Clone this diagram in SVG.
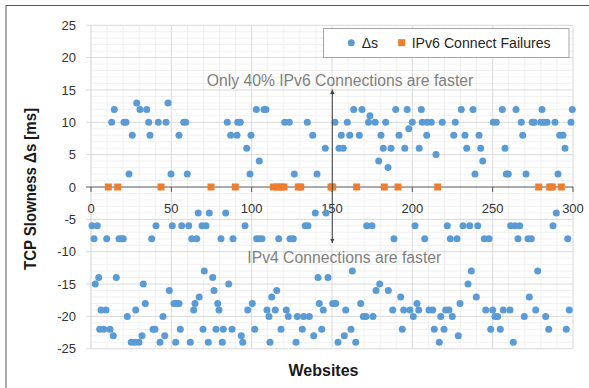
<svg xmlns="http://www.w3.org/2000/svg" width="589" height="388" viewBox="0 0 589 388">
  <style>
    .minor { stroke: #f0f0f0; stroke-width: 1; fill: none; }
    .major { stroke: #d9d9d9; stroke-width: 1; fill: none; }
    .yaxis { stroke: #d0d0d0; stroke-width: 1; fill: none; }
    .xaxis { stroke: #595959; stroke-width: 1; fill: none; }
    .tick { font-family: "Liberation Sans", Arial, sans-serif; font-size: 13px; fill: #333333; }
    .ytick { text-anchor: end; }
    .xtick { text-anchor: middle; }
    .title { font-family: "Liberation Sans", Arial, sans-serif; font-size: 16px; font-weight: bold; fill: #1a1a1a; }
    .note { font-family: "Liberation Sans", Arial, sans-serif; font-size: 16px; fill: #7f7f7f; }
    .legend-text { font-family: "Liberation Sans", Arial, sans-serif; font-size: 14px; fill: #262626; }
    .delta circle, circle.delta { fill: #5b9bd5; }
    .fail rect, rect.fail { fill: #ed7d31; }
    .arrow { stroke: #404040; stroke-width: 1; fill: none; }
  </style>
  <defs>
    <marker id="head" viewBox="0 0 10 10" refX="10" refY="5" markerWidth="4.5" markerHeight="4.5" orient="auto-start-reverse">
      <path d="M0,0 L10,5 L0,10 z" fill="#404040"/>
    </marker>
  </defs>

  <!-- chart background and frame -->
  <rect x="0" y="0" width="589" height="388" fill="#ffffff"/>
  <rect id="frame" x="6" y="5.5" width="620" height="420" fill="none" stroke="#595959" stroke-width="1"/>

  <!-- grid: minor lines every 1 ms / 10 sites, major every 5 ms / 50 sites -->
  <g id="grid">
    <path class="minor" d="M91,31.72H573M91,38.19H573M91,44.66H573M91,51.13H573
      M91,64.07H573M91,70.54H573M91,77.01H573M91,83.48H573
      M91,96.42H573M91,102.89H573M91,109.36H573M91,115.83H573
      M91,128.77H573M91,135.24H573M91,141.71H573M91,148.18H573
      M91,161.12H573M91,167.59H573M91,174.06H573M91,180.53H573
      M91,193.47H573M91,199.94H573M91,206.41H573M91,212.88H573
      M91,225.82H573M91,232.29H573M91,238.76H573M91,245.23H573
      M91,258.17H573M91,264.64H573M91,271.11H573M91,277.58H573
      M91,290.52H573M91,296.99H573M91,303.46H573M91,309.93H573
      M91,322.87H573M91,329.34H573M91,335.81H573M91,342.28H573
      M107.07,25.25V348.75M123.13,25.25V348.75M139.2,25.25V348.75M155.27,25.25V348.75
      M187.4,25.25V348.75M203.47,25.25V348.75M219.53,25.25V348.75M235.6,25.25V348.75
      M267.73,25.25V348.75M283.8,25.25V348.75M299.87,25.25V348.75M315.93,25.25V348.75
      M348.07,25.25V348.75M364.13,25.25V348.75M380.2,25.25V348.75M396.27,25.25V348.75
      M428.4,25.25V348.75M444.47,25.25V348.75M460.53,25.25V348.75M476.6,25.25V348.75
      M508.73,25.25V348.75M524.8,25.25V348.75M540.87,25.25V348.75M556.93,25.25V348.75"/>
    <path class="major" d="M86,25.25H573M86,57.6H573M86,89.95H573M86,122.3H573M86,154.65H573
      M86,219.35H573M86,251.7H573M86,284.05H573M86,316.4H573M86,348.75H573
      M171.33,25.25V348.75M251.67,25.25V348.75M332,25.25V348.75M412.33,25.25V348.75
      M492.67,25.25V348.75M573,25.25V348.75"/>
  </g>

  <!-- axes -->
  <g id="axes">
    <path class="yaxis" d="M91,25.25V348.75"/>
    <path class="xaxis" d="M86,187H573M91,187V192M171.33,187V192M251.67,187V192M332,187V192M412.33,187V192M492.67,187V192M573,187V192"/>
    <g class="tick ytick">
      <text x="76" y="29.85">25</text>
      <text x="76" y="62.2">20</text>
      <text x="76" y="94.55">15</text>
      <text x="76" y="126.9">10</text>
      <text x="76" y="159.25">5</text>
      <text x="76" y="191.6">0</text>
      <text x="76" y="223.95">-5</text>
      <text x="76" y="256.3">-10</text>
      <text x="76" y="288.65">-15</text>
      <text x="76" y="321">-20</text>
      <text x="76" y="353.35">-25</text>
    </g>
    <g class="tick xtick">
      <text x="91" y="213.3">0</text>
      <text x="171.33" y="213.3">50</text>
      <text x="251.67" y="213.3">100</text>
      <text x="332" y="213.3">150</text>
      <text x="412.33" y="213.3">200</text>
      <text x="492.67" y="213.3">250</text>
      <text x="573" y="213.3">300</text>
    </g>
    <text class="title" transform="translate(35.5,189) rotate(-90)" text-anchor="middle" textLength="162" lengthAdjust="spacingAndGlyphs">TCP Slowness Δs [ms]</text>
    <text class="title" x="323.5" y="376.3" text-anchor="middle">Websites</text>
  </g>

  <!-- series: IPv6 connect failures (plotted at 0) -->
  <g id="series-failures" class="fail">
    <rect x="104.8" y="183.5" width="7" height="7"/>
    <rect x="114.2" y="183.5" width="7" height="7"/>
    <rect x="157.5" y="183.5" width="7" height="7"/>
    <rect x="207.5" y="183.5" width="7" height="7"/>
    <rect x="231.8" y="183.5" width="7" height="7"/>
    <rect x="269.8" y="183.5" width="7" height="7"/>
    <rect x="273.8" y="183.5" width="7" height="7"/>
    <rect x="277.2" y="183.5" width="7" height="7"/>
    <rect x="280.5" y="183.5" width="7" height="7"/>
    <rect x="294.8" y="183.5" width="7" height="7"/>
    <rect x="297.2" y="183.5" width="7" height="7"/>
    <rect x="327.5" y="183.5" width="7" height="7"/>
    <rect x="329.2" y="183.5" width="7" height="7"/>
    <rect x="353.2" y="183.5" width="7" height="7"/>
    <rect x="380.8" y="183.5" width="7" height="7"/>
    <rect x="394.5" y="183.5" width="7" height="7"/>
    <rect x="434.2" y="183.5" width="7" height="7"/>
    <rect x="535.2" y="183.5" width="7" height="7"/>
    <rect x="546.2" y="183.5" width="7" height="7"/>
    <rect x="548.8" y="183.5" width="7" height="7"/>
    <rect x="557.8" y="183.5" width="7" height="7"/>
  </g>

  <!-- series: delta s per website -->
  <g id="series-delta" class="delta">
    <!-- positive values -->
    <circle cx="111.7" cy="122.3" r="3.5"/>
    <circle cx="114.3" cy="109.4" r="3.5"/>
    <circle cx="124" cy="122.3" r="3.5"/>
    <circle cx="126" cy="122.3" r="3.5"/>
    <circle cx="129" cy="174.1" r="3.5"/>
    <circle cx="132.3" cy="135.2" r="3.5"/>
    <circle cx="136.7" cy="102.9" r="3.5"/>
    <circle cx="140" cy="109.4" r="3.5"/>
    <circle cx="146.7" cy="109.4" r="3.5"/>
    <circle cx="148.7" cy="122.3" r="3.5"/>
    <circle cx="150" cy="135.2" r="3.5"/>
    <circle cx="158.3" cy="122.3" r="3.5"/>
    <circle cx="166" cy="122.3" r="3.5"/>
    <circle cx="168" cy="102.9" r="3.5"/>
    <circle cx="171" cy="174.1" r="3.5"/>
    <circle cx="179" cy="135.2" r="3.5"/>
    <circle cx="183.7" cy="122.3" r="3.5"/>
    <circle cx="185.7" cy="122.3" r="3.5"/>
    <circle cx="187.3" cy="174.1" r="3.5"/>
    <circle cx="227.3" cy="122.3" r="3.5"/>
    <circle cx="230.7" cy="135.2" r="3.5"/>
    <circle cx="237" cy="135.2" r="3.5"/>
    <circle cx="237.7" cy="122.3" r="3.5"/>
    <circle cx="240.3" cy="122.3" r="3.5"/>
    <circle cx="246.7" cy="148.2" r="3.5"/>
    <circle cx="251" cy="135.2" r="3.5"/>
    <circle cx="250" cy="174.1" r="3.5"/>
    <circle cx="256.3" cy="109.4" r="3.5"/>
    <circle cx="259.3" cy="161.1" r="3.5"/>
    <circle cx="264" cy="109.4" r="3.5"/>
    <circle cx="266" cy="109.4" r="3.5"/>
    <circle cx="284.7" cy="122.3" r="3.5"/>
    <circle cx="289.3" cy="122.3" r="3.5"/>
    <circle cx="294.3" cy="174.1" r="3.5"/>
    <circle cx="307.3" cy="122.3" r="3.5"/>
    <circle cx="312.7" cy="135.2" r="3.5"/>
    <circle cx="317" cy="174.1" r="3.5"/>
    <circle cx="325.3" cy="148.2" r="3.5"/>
    <circle cx="335" cy="122.3" r="3.5"/>
    <circle cx="339" cy="148.2" r="3.5"/>
    <circle cx="343.3" cy="148.2" r="3.5"/>
    <circle cx="341.3" cy="135.2" r="3.5"/>
    <circle cx="347.3" cy="122.3" r="3.5"/>
    <circle cx="349.7" cy="135.2" r="3.5"/>
    <circle cx="353.7" cy="109.4" r="3.5"/>
    <circle cx="359.3" cy="135.2" r="3.5"/>
    <circle cx="362" cy="109.4" r="3.5"/>
    <circle cx="370" cy="115.8" r="3.5"/>
    <circle cx="368.5" cy="122.3" r="3.5"/>
    <circle cx="375.2" cy="122.3" r="3.5"/>
    <circle cx="385.7" cy="122.3" r="3.5"/>
    <circle cx="381" cy="135.2" r="3.5"/>
    <circle cx="383.3" cy="148.2" r="3.5"/>
    <circle cx="391" cy="148.2" r="3.5"/>
    <circle cx="378.7" cy="161.1" r="3.5"/>
    <circle cx="388" cy="167.6" r="3.5"/>
    <circle cx="395.7" cy="109.4" r="3.5"/>
    <circle cx="399" cy="135.2" r="3.5"/>
    <circle cx="407.2" cy="109.4" r="3.5"/>
    <circle cx="408.8" cy="128.8" r="3.5"/>
    <circle cx="412.3" cy="122.3" r="3.5"/>
    <circle cx="404.8" cy="148.2" r="3.5"/>
    <circle cx="421.3" cy="109.4" r="3.5"/>
    <circle cx="422.3" cy="122.3" r="3.5"/>
    <circle cx="427" cy="122.3" r="3.5"/>
    <circle cx="431.3" cy="122.3" r="3.5"/>
    <circle cx="426.7" cy="135.2" r="3.5"/>
    <circle cx="419.2" cy="148.2" r="3.5"/>
    <circle cx="436" cy="154.6" r="3.5"/>
    <circle cx="442.3" cy="122.3" r="3.5"/>
    <circle cx="455.3" cy="122.3" r="3.5"/>
    <circle cx="453.7" cy="135.2" r="3.5"/>
    <circle cx="461.3" cy="109.4" r="3.5"/>
    <circle cx="473" cy="109.4" r="3.5"/>
    <circle cx="465" cy="135.2" r="3.5"/>
    <circle cx="466.7" cy="148.2" r="3.5"/>
    <circle cx="479" cy="135.2" r="3.5"/>
    <circle cx="480.7" cy="148.2" r="3.5"/>
    <circle cx="482.7" cy="161.1" r="3.5"/>
    <circle cx="475" cy="174.1" r="3.5"/>
    <circle cx="493.3" cy="122.3" r="3.5"/>
    <circle cx="496.3" cy="122.3" r="3.5"/>
    <circle cx="502.3" cy="109.4" r="3.5"/>
    <circle cx="505" cy="148.2" r="3.5"/>
    <circle cx="506.3" cy="174.1" r="3.5"/>
    <circle cx="508.3" cy="174.1" r="3.5"/>
    <circle cx="516" cy="109.4" r="3.5"/>
    <circle cx="521.3" cy="122.3" r="3.5"/>
    <circle cx="522.7" cy="135.2" r="3.5"/>
    <circle cx="526" cy="174.1" r="3.5"/>
    <circle cx="532.3" cy="122.3" r="3.5"/>
    <circle cx="534.3" cy="122.3" r="3.5"/>
    <circle cx="542" cy="109.4" r="3.5"/>
    <circle cx="540.7" cy="122.3" r="3.5"/>
    <circle cx="544" cy="122.3" r="3.5"/>
    <circle cx="547" cy="122.3" r="3.5"/>
    <circle cx="555" cy="122.3" r="3.5"/>
    <circle cx="559.7" cy="135.2" r="3.5"/>
    <circle cx="563" cy="135.2" r="3.5"/>
    <circle cx="565" cy="148.2" r="3.5"/>
    <circle cx="558" cy="174.1" r="3.5"/>
    <circle cx="572.3" cy="109.4" r="3.5"/>
    <circle cx="571" cy="122.3" r="3.5"/>
    <!-- -4 .. -8 band -->
    <circle cx="92" cy="225.8" r="3.5"/>
    <circle cx="97.3" cy="225.8" r="3.5"/>
    <circle cx="94" cy="238.8" r="3.5"/>
    <circle cx="106.7" cy="238.8" r="3.5"/>
    <circle cx="119" cy="238.8" r="3.5"/>
    <circle cx="121.7" cy="238.8" r="3.5"/>
    <circle cx="123.3" cy="238.8" r="3.5"/>
    <circle cx="151.7" cy="238.8" r="3.5"/>
    <circle cx="156" cy="225.8" r="3.5"/>
    <circle cx="172.3" cy="225.8" r="3.5"/>
    <circle cx="181.7" cy="225.8" r="3.5"/>
    <circle cx="188.7" cy="225.8" r="3.5"/>
    <circle cx="191.7" cy="238.8" r="3.5"/>
    <circle cx="196.7" cy="238.8" r="3.5"/>
    <circle cx="198.2" cy="212.9" r="3.5"/>
    <circle cx="202" cy="225.8" r="3.5"/>
    <circle cx="206" cy="225.8" r="3.5"/>
    <circle cx="209.3" cy="212.9" r="3.5"/>
    <circle cx="225.7" cy="212.9" r="3.5"/>
    <circle cx="221" cy="238.8" r="3.5"/>
    <circle cx="233" cy="238.8" r="3.5"/>
    <circle cx="245" cy="225.8" r="3.5"/>
    <circle cx="256.7" cy="238.8" r="3.5"/>
    <circle cx="259.3" cy="238.8" r="3.5"/>
    <circle cx="262" cy="238.8" r="3.5"/>
    <circle cx="278.7" cy="238.8" r="3.5"/>
    <circle cx="290" cy="238.8" r="3.5"/>
    <circle cx="293.3" cy="238.8" r="3.5"/>
    <circle cx="305.3" cy="225.8" r="3.5"/>
    <circle cx="308" cy="225.8" r="3.5"/>
    <circle cx="315.3" cy="212.9" r="3.5"/>
    <circle cx="326" cy="212.9" r="3.5"/>
    <circle cx="366.7" cy="225.8" r="3.5"/>
    <circle cx="372" cy="225.8" r="3.5"/>
    <circle cx="394" cy="238.8" r="3.5"/>
    <circle cx="415" cy="225.8" r="3.5"/>
    <circle cx="424.7" cy="238.8" r="3.5"/>
    <circle cx="447.3" cy="225.8" r="3.5"/>
    <circle cx="450.3" cy="238.8" r="3.5"/>
    <circle cx="457" cy="238.8" r="3.5"/>
    <circle cx="463" cy="225.8" r="3.5"/>
    <circle cx="469.7" cy="225.8" r="3.5"/>
    <circle cx="477.7" cy="225.8" r="3.5"/>
    <circle cx="484.3" cy="238.8" r="3.5"/>
    <circle cx="489" cy="238.8" r="3.5"/>
    <circle cx="510.7" cy="225.8" r="3.5"/>
    <circle cx="515" cy="225.8" r="3.5"/>
    <circle cx="519.7" cy="225.8" r="3.5"/>
    <circle cx="518" cy="238.8" r="3.5"/>
    <circle cx="528" cy="238.8" r="3.5"/>
    <circle cx="531.3" cy="238.8" r="3.5"/>
    <circle cx="553" cy="225.8" r="3.5"/>
    <circle cx="556.3" cy="212.9" r="3.5"/>
    <circle cx="567.7" cy="238.8" r="3.5"/>
    <!-- -13 .. -24 band -->
    <circle cx="95.3" cy="284" r="3.5"/>
    <circle cx="98.7" cy="277.6" r="3.5"/>
    <circle cx="116.3" cy="277.6" r="3.5"/>
    <circle cx="101" cy="309.9" r="3.5"/>
    <circle cx="106" cy="309.9" r="3.5"/>
    <circle cx="99.7" cy="329.3" r="3.5"/>
    <circle cx="103.7" cy="329.3" r="3.5"/>
    <circle cx="110" cy="329.3" r="3.5"/>
    <circle cx="113.3" cy="335.8" r="3.5"/>
    <circle cx="127.3" cy="316.4" r="3.5"/>
    <circle cx="131.3" cy="342.3" r="3.5"/>
    <circle cx="135" cy="342.3" r="3.5"/>
    <circle cx="139" cy="342.3" r="3.5"/>
    <circle cx="135.7" cy="309.9" r="3.5"/>
    <circle cx="142" cy="335.8" r="3.5"/>
    <circle cx="143.3" cy="284" r="3.5"/>
    <circle cx="145.3" cy="303.5" r="3.5"/>
    <circle cx="153" cy="329.3" r="3.5"/>
    <circle cx="155" cy="329.3" r="3.5"/>
    <circle cx="160" cy="342.3" r="3.5"/>
    <circle cx="163" cy="316.4" r="3.5"/>
    <circle cx="164.7" cy="335.8" r="3.5"/>
    <circle cx="169.3" cy="290.5" r="3.5"/>
    <circle cx="174" cy="303.5" r="3.5"/>
    <circle cx="176.7" cy="303.5" r="3.5"/>
    <circle cx="179" cy="303.5" r="3.5"/>
    <circle cx="175.7" cy="342.3" r="3.5"/>
    <circle cx="180.3" cy="329.3" r="3.5"/>
    <circle cx="190.3" cy="342.3" r="3.5"/>
    <circle cx="193.7" cy="309.9" r="3.5"/>
    <circle cx="195" cy="303.5" r="3.5"/>
    <circle cx="199.2" cy="297" r="3.5"/>
    <circle cx="203" cy="329.3" r="3.5"/>
    <circle cx="204.3" cy="271.1" r="3.5"/>
    <circle cx="212.7" cy="277.6" r="3.5"/>
    <circle cx="228.7" cy="284" r="3.5"/>
    <circle cx="214" cy="290.5" r="3.5"/>
    <circle cx="217.7" cy="303.5" r="3.5"/>
    <circle cx="219" cy="309.9" r="3.5"/>
    <circle cx="208.3" cy="342.3" r="3.5"/>
    <circle cx="222.3" cy="342.3" r="3.5"/>
    <circle cx="216" cy="329.3" r="3.5"/>
    <circle cx="223.3" cy="329.3" r="3.5"/>
    <circle cx="232" cy="329.3" r="3.5"/>
    <circle cx="241.3" cy="335.8" r="3.5"/>
    <circle cx="242.7" cy="342.3" r="3.5"/>
    <circle cx="247.7" cy="309.9" r="3.5"/>
    <circle cx="252.3" cy="303.5" r="3.5"/>
    <circle cx="254.7" cy="329.3" r="3.5"/>
    <circle cx="270" cy="342.3" r="3.5"/>
    <circle cx="267" cy="309.9" r="3.5"/>
    <circle cx="269" cy="316.4" r="3.5"/>
    <circle cx="271.7" cy="297" r="3.5"/>
    <circle cx="276.7" cy="290.5" r="3.5"/>
    <circle cx="275.3" cy="309.9" r="3.5"/>
    <circle cx="281" cy="329.3" r="3.5"/>
    <circle cx="286.3" cy="309.9" r="3.5"/>
    <circle cx="288.3" cy="316.4" r="3.5"/>
    <circle cx="296" cy="342.3" r="3.5"/>
    <circle cx="297.3" cy="316.4" r="3.5"/>
    <circle cx="303.7" cy="316.4" r="3.5"/>
    <circle cx="309.3" cy="316.4" r="3.5"/>
    <circle cx="302.3" cy="329.3" r="3.5"/>
    <circle cx="313.7" cy="335.8" r="3.5"/>
    <circle cx="318" cy="277.6" r="3.5"/>
    <circle cx="328" cy="277.6" r="3.5"/>
    <circle cx="319.3" cy="303.5" r="3.5"/>
    <circle cx="323.3" cy="309.9" r="3.5"/>
    <circle cx="321.7" cy="329.3" r="3.5"/>
    <circle cx="332.7" cy="303.5" r="3.5"/>
    <circle cx="335.7" cy="303.5" r="3.5"/>
    <circle cx="338" cy="342.3" r="3.5"/>
    <circle cx="345.7" cy="309.9" r="3.5"/>
    <circle cx="344.3" cy="335.8" r="3.5"/>
    <circle cx="351" cy="329.3" r="3.5"/>
    <circle cx="352.3" cy="271.1" r="3.5"/>
    <circle cx="355.7" cy="342.3" r="3.5"/>
    <circle cx="360.7" cy="303.5" r="3.5"/>
    <circle cx="363.3" cy="316.4" r="3.5"/>
    <circle cx="366" cy="316.4" r="3.5"/>
    <circle cx="373" cy="316.4" r="3.5"/>
    <circle cx="376" cy="290.5" r="3.5"/>
    <circle cx="379.7" cy="284" r="3.5"/>
    <circle cx="388.3" cy="290.5" r="3.5"/>
    <circle cx="392.7" cy="309.9" r="3.5"/>
    <circle cx="400.7" cy="297" r="3.5"/>
    <circle cx="402.3" cy="329.3" r="3.5"/>
    <circle cx="403.7" cy="309.9" r="3.5"/>
    <circle cx="410" cy="309.9" r="3.5"/>
    <circle cx="413.3" cy="316.4" r="3.5"/>
    <circle cx="417" cy="303.5" r="3.5"/>
    <circle cx="418.7" cy="309.9" r="3.5"/>
    <circle cx="429" cy="309.9" r="3.5"/>
    <circle cx="432.7" cy="309.9" r="3.5"/>
    <circle cx="434.3" cy="329.3" r="3.5"/>
    <circle cx="439.3" cy="342.3" r="3.5"/>
    <circle cx="440.7" cy="316.4" r="3.5"/>
    <circle cx="444" cy="329.3" r="3.5"/>
    <circle cx="445.7" cy="309.9" r="3.5"/>
    <circle cx="449" cy="309.9" r="3.5"/>
    <circle cx="452.3" cy="316.4" r="3.5"/>
    <circle cx="458.3" cy="335.8" r="3.5"/>
    <circle cx="460" cy="303.5" r="3.5"/>
    <circle cx="468" cy="284" r="3.5"/>
    <circle cx="471.3" cy="271.1" r="3.5"/>
    <circle cx="476.3" cy="297" r="3.5"/>
    <circle cx="485.7" cy="309.9" r="3.5"/>
    <circle cx="492.7" cy="309.9" r="3.5"/>
    <circle cx="490.7" cy="329.3" r="3.5"/>
    <circle cx="495" cy="316.4" r="3.5"/>
    <circle cx="497.7" cy="316.4" r="3.5"/>
    <circle cx="500.3" cy="329.3" r="3.5"/>
    <circle cx="503.3" cy="309.9" r="3.5"/>
    <circle cx="510" cy="309.9" r="3.5"/>
    <circle cx="513.3" cy="342.3" r="3.5"/>
    <circle cx="524.3" cy="316.4" r="3.5"/>
    <circle cx="529.3" cy="297" r="3.5"/>
    <circle cx="535.7" cy="309.9" r="3.5"/>
    <circle cx="537.7" cy="271.1" r="3.5"/>
    <circle cx="545.7" cy="316.4" r="3.5"/>
    <circle cx="548.7" cy="329.3" r="3.5"/>
    <circle cx="566.3" cy="329.3" r="3.5"/>
    <circle cx="569.3" cy="309.9" r="3.5"/>
  </g>

  <!-- legend -->
  <g id="legend">
    <rect x="323.5" y="28.5" width="245.5" height="29" fill="#ffffff" stroke="#a6a6a6" stroke-width="1"/>
    <circle class="delta" cx="351.3" cy="42.7" r="3.5"/>
    <text class="legend-text" x="361.7" y="48">Δs</text>
    <rect class="fail" x="398.2" y="39.2" width="7" height="7"/>
    <text class="legend-text" x="411.7" y="48" textLength="139" lengthAdjust="spacingAndGlyphs">IPv6 Connect Failures</text>
  </g>

  <!-- annotations -->
  <g id="annotations">
    <text class="note" x="206.7" y="86" textLength="266.6" lengthAdjust="spacingAndGlyphs">Only 40% IPv6 Connections are faster</text>
    <text class="note" x="247.3" y="263" textLength="194" lengthAdjust="spacingAndGlyphs">IPv4 Connections are faster</text>
  </g>

  <!-- connectors: double-headed arrow through the zero line -->
  <g id="connectors">
    <line class="arrow" x1="332.3" y1="89.5" x2="332.3" y2="243" marker-start="url(#head)" marker-end="url(#head)"/>
  </g>
</svg>
